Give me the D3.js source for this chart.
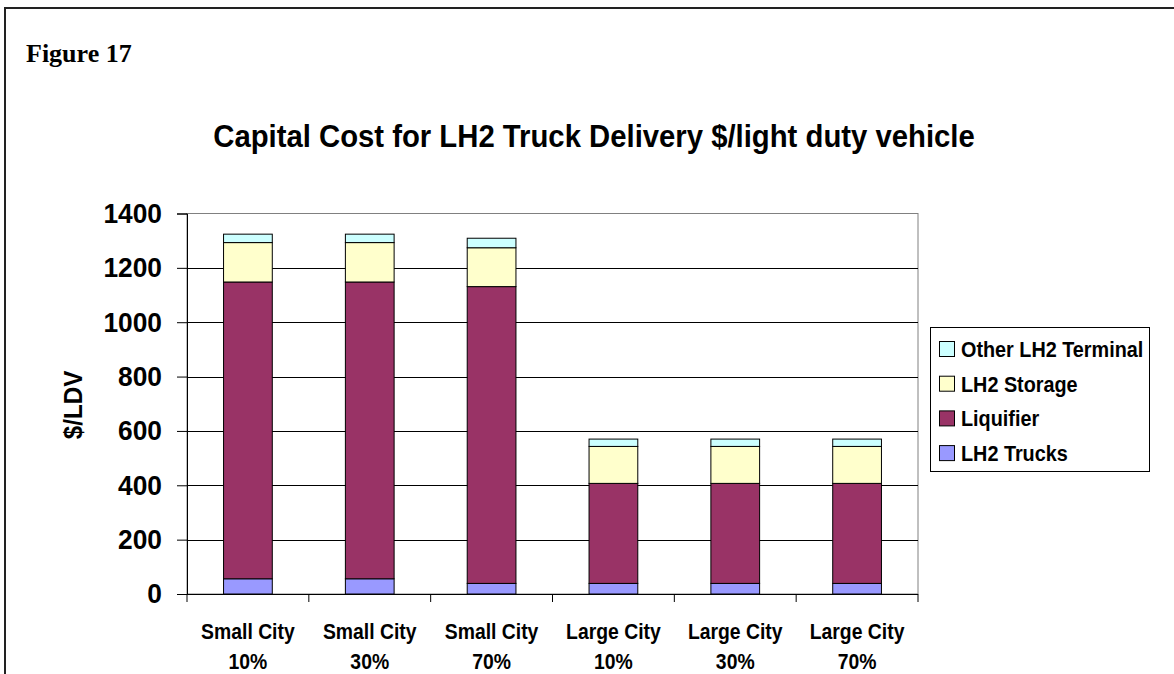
<!DOCTYPE html>
<html>
<head>
<meta charset="utf-8">
<script src="https://cdn.jsdelivr.net/npm/d3@7"></script>
<style>
  body { margin: 0; background: #fff; }
  text { font-family: "Liberation Sans", Arial, sans-serif; font-weight: bold; }
</style>
</head>
<body>
<svg id="chart" width="1174" height="674"></svg>
<script>
// chart values
var cityLines = [["Small City", "10%"], ["Small City", "30%"], ["Small City", "70%"],
                 ["Large City", "10%"], ["Large City", "30%"], ["Large City", "70%"]];
var seriesNames = ["LH2 Trucks", "Liquifier", "LH2 Storage", "Other LH2 Terminal"];
var trucks    = [56, 56, 39, 39, 39, 39];
var liquifier = [1092, 1092, 1092, 368, 368, 368];
var storage   = [145, 145, 143, 136, 136, 136];
var other     = [31, 31, 35, 27, 27, 27];
var yTicks    = [0, 200, 400, 600, 800, 1000, 1200, 1400];

var colors = {"LH2 Trucks": "#9999ff", "Liquifier": "#993366",
              "LH2 Storage": "#ffffcc", "Other LH2 Terminal": "#ccffff"};

var rows = cityLines.map(function(c, i) {
    return {key: i, "LH2 Trucks": trucks[i], "Liquifier": liquifier[i],
            "LH2 Storage": storage[i], "Other LH2 Terminal": other[i]};
});

// squeeze text horizontally, the original uses a narrow-looking Arial
function condense(sel, k) {
    sel.each(function() {
        var len = this.getComputedTextLength();
        d3.select(this).attr("textLength", len * k).attr("lengthAdjust", "spacingAndGlyphs");
    });
}

var svg = d3.select("#chart");

// frame around the figure (runs off right and bottom)
svg.append("path")
    .attr("d", "M5,680 L5,8 L1180,8")
    .attr("fill", "none")
    .attr("stroke", "#222")
    .attr("stroke-width", 2);

svg.append("text")
    .attr("x", 26).attr("y", 62)
    .style("font-family", "'Liberation Serif', 'Times New Roman', serif")
    .style("font-size", "26px")
    .text("Figure 17");

svg.append("text")
    .attr("x", 594).attr("y", 147)
    .attr("text-anchor", "middle")
    .style("font-size", "32px")
    .text("Capital Cost for LH2 Truck Delivery $/light duty vehicle")
    .call(condense, 0.915);

var plotL = 187, plotR = 918, plotT = 213.5, plotB = 594;

var x = d3.scaleBand().domain(d3.range(cityLines.length)).range([plotL, plotR]).padding(0);
var y = d3.scaleLinear().domain([0, 1400]).range([plotB, plotT]);

// plot area
svg.append("rect")
    .attr("x", plotL).attr("y", plotT)
    .attr("width", plotR - plotL).attr("height", plotB - plotT)
    .attr("fill", "#fff")
    .attr("stroke", "#808080");

// gridlines
svg.append("g").selectAll("line")
    .data(yTicks.filter(function(t) { return t > 0 && t < 1400; }))
    .enter().append("line")
    .attr("x1", plotL).attr("x2", plotR)
    .attr("y1", function(d) { return Math.round(y(d)) + 0.5; })
    .attr("y2", function(d) { return Math.round(y(d)) + 0.5; })
    .attr("stroke", "#000");

// stacked bars
var stack = d3.stack().keys(seriesNames);
var layers = stack(rows);
var barW = x.bandwidth() * 0.4;

svg.append("g").selectAll("g")
    .data(layers)
    .enter().append("g")
    .attr("fill", function(d) { return colors[d.key]; })
    .selectAll("rect")
    .data(function(d) { return d; })
    .enter().append("rect")
    .attr("x", function(d, i) { return x(i) + (x.bandwidth() - barW) / 2; })
    .attr("y", function(d) { return y(d[1]); })
    .attr("width", barW)
    .attr("height", function(d) { return y(d[0]) - y(d[1]); })
    .attr("stroke", "#000")
    .attr("stroke-width", 1);

// y axis
var yAxis = d3.axisLeft(y).tickValues(yTicks).tickFormat(d3.format("d"))
    .tickSize(10).tickPadding(15);
var gy = svg.append("g")
    .attr("transform", "translate(" + plotL + ",0)")
    .call(yAxis);
gy.select(".domain").attr("stroke", "#000");
gy.selectAll(".tick line").attr("stroke", "#000");
gy.selectAll(".tick text")
    .attr("fill", "#000")
    .style("font-size", "28px")
    .style("font-family", "'Liberation Sans', Arial, sans-serif")
    .style("font-weight", "bold")
    .call(condense, 0.94);

// x axis line and ticks at band edges
svg.append("line")
    .attr("x1", plotL).attr("x2", plotR)
    .attr("y1", plotB + 0.5).attr("y2", plotB + 0.5)
    .attr("stroke", "#000");
svg.append("g").selectAll("line")
    .data(d3.range(cityLines.length + 1))
    .enter().append("line")
    .attr("x1", function(i) { return i < cityLines.length ? x(i) : plotR; })
    .attr("x2", function(i) { return i < cityLines.length ? x(i) : plotR; })
    .attr("y1", plotB).attr("y2", plotB + 8)
    .attr("stroke", "#000");

// category labels, two lines each
[0, 1].forEach(function(line) {
    svg.append("g").selectAll("text")
        .data(cityLines)
        .enter().append("text")
        .attr("x", function(d, i) { return x(i) + x.bandwidth() / 2; })
        .attr("y", line === 0 ? 639 : 669)
        .attr("text-anchor", "middle")
        .style("font-size", "22px")
        .text(function(d) { return d[line]; })
        .call(condense, 0.88);
});

// y axis title
svg.append("text")
    .attr("transform", "translate(82,405) rotate(-90)")
    .attr("text-anchor", "middle")
    .style("font-size", "26px")
    .text("$/LDV")
    .call(condense, 0.93);

// legend
var lg = svg.append("g");
lg.append("rect")
    .attr("x", 930.5).attr("y", 327.5)
    .attr("width", 219).attr("height", 144)
    .attr("fill", "#fff")
    .attr("stroke", "#000");
var items = lg.selectAll("g.item")
    .data(seriesNames.slice().reverse())
    .enter().append("g")
    .attr("class", "item")
    .attr("transform", function(d, i) { return "translate(939," + (349 + i * 34.7) + ")"; });
items.append("rect")
    .attr("x", 0.5).attr("y", -7.5)
    .attr("width", 15).attr("height", 15)
    .attr("fill", function(d) { return colors[d]; })
    .attr("stroke", "#000");
items.append("text")
    .attr("x", 22).attr("y", 8)
    .style("font-size", "22px")
    .text(function(d) { return d; })
    .call(condense, 0.9);
</script>
</body>
</html>
